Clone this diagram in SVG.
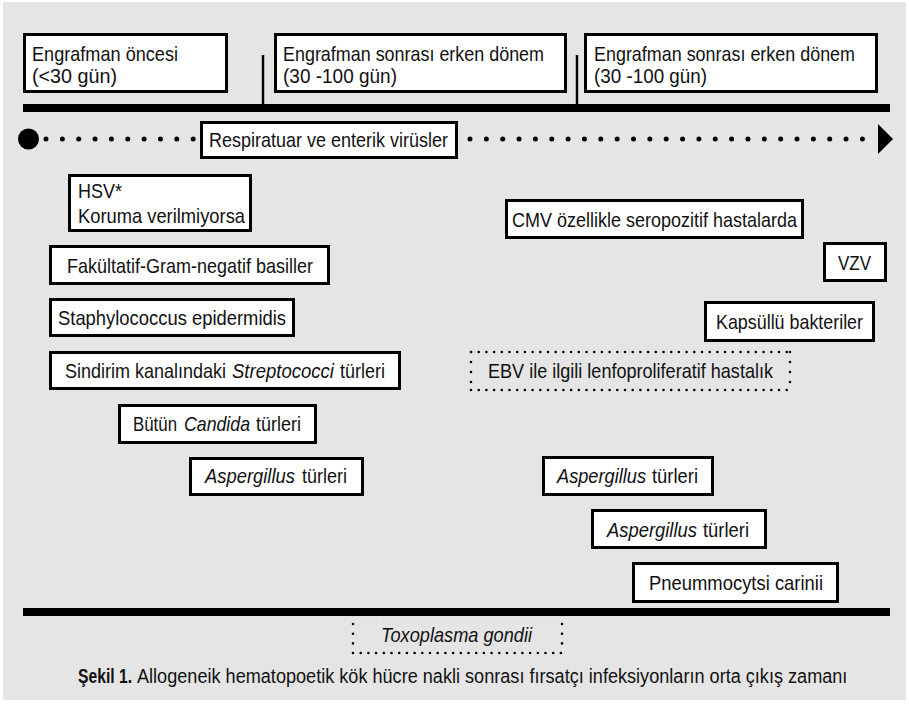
<svg xmlns="http://www.w3.org/2000/svg" width="909" height="704" viewBox="0 0 909 704">
<style>
.bx{fill:#fff;stroke:#000;stroke-width:3}
.t{font-family:"Liberation Sans Narrow","Liberation Sans",Arial,sans-serif;font-size:21px;fill:#111}
.i{font-style:italic}
.b{font-weight:bold}
.dot{fill:none;stroke:#000;stroke-width:2.6;stroke-linecap:round}
.tl{fill:none;stroke:#000;stroke-width:5;stroke-linecap:round;stroke-dasharray:0 16.35}
</style>
<rect x="0" y="0" width="909" height="704" fill="#fff"/>
<rect x="3" y="2" width="903" height="698" fill="#e5e5e5"/>

<g id="connectors">
  <rect x="23" y="104" width="867" height="8" fill="#000"/>
  <line x1="263" y1="55" x2="263" y2="104" stroke="#000" stroke-width="2.5"/>
  <line x1="577" y1="55" x2="577" y2="104" stroke="#000" stroke-width="2.5"/>
  <circle cx="28.5" cy="139" r="10.5" fill="#000"/>
  <line class="tl" x1="46" y1="139" x2="194" y2="139"/>
  <line class="tl" x1="470" y1="139" x2="864" y2="139"/>
  <polygon points="878,124 878,154 893,139" fill="#000"/>
</g>

<g id="period-pre">
  <rect class="bx" x="24.5" y="34.5" width="202" height="57"/>
  <text class="t" x="32" y="61" textLength="146" lengthAdjust="spacingAndGlyphs">Engrafman öncesi</text>
  <text class="t" x="32" y="83" textLength="85" lengthAdjust="spacingAndGlyphs">(&lt;30 gün)</text>
</g>
<g id="period-early1">
  <rect class="bx" x="275.5" y="34.5" width="290" height="57"/>
  <text class="t" x="283" y="61" textLength="261" lengthAdjust="spacingAndGlyphs">Engrafman sonrası erken dönem</text>
  <text class="t" x="283" y="83" textLength="114" lengthAdjust="spacingAndGlyphs">(30 -100 gün)</text>
</g>
<g id="period-early2">
  <rect class="bx" x="585.5" y="34.5" width="291" height="57"/>
  <text class="t" x="594" y="61" textLength="261" lengthAdjust="spacingAndGlyphs">Engrafman sonrası erken dönem</text>
  <text class="t" x="594" y="83" textLength="113" lengthAdjust="spacingAndGlyphs">(30 -100 gün)</text>
</g>
<g id="resp">
  <rect class="bx" x="201.5" y="122.5" width="255" height="35"/>
  <text class="t" x="209" y="147" textLength="239" lengthAdjust="spacingAndGlyphs">Respiratuar ve enterik virüsler</text>
</g>
<g id="hsv">
  <rect class="bx" x="69.5" y="175.5" width="181" height="55"/>
  <text class="t" x="78" y="198" textLength="44" lengthAdjust="spacingAndGlyphs">HSV*</text>
  <text class="t" x="78" y="223" textLength="167" lengthAdjust="spacingAndGlyphs">Koruma verilmiyorsa</text>
</g>
<g id="fak">
  <rect class="bx" x="50.5" y="246.5" width="278" height="37"/>
  <text class="t" x="67" y="273" textLength="246" lengthAdjust="spacingAndGlyphs">Fakültatif-Gram-negatif basiller</text>
</g>
<g id="staph">
  <rect class="bx" x="50.5" y="299.5" width="243" height="36"/>
  <text class="t" x="58" y="325" textLength="228" lengthAdjust="spacingAndGlyphs">Staphylococcus epidermidis</text>
</g>
<g id="sind">
  <rect class="bx" x="50.5" y="352.5" width="349" height="36"/>
  <text class="t" transform="translate(65,378) scale(0.857,1)" textLength="187.9" lengthAdjust="spacingAndGlyphs">Sindirim kanalındaki</text>
  <text class="t i" transform="translate(232,378) scale(0.883,1)" textLength="115.5" lengthAdjust="spacingAndGlyphs">Streptococci</text>
  <text class="t" transform="translate(340,378) scale(0.857,1)" textLength="52.5" lengthAdjust="spacingAndGlyphs">türleri</text>
</g>
<g id="candida">
  <rect class="bx" x="119.5" y="405.5" width="196" height="37"/>
  <text class="t" transform="translate(133,431) scale(0.83,1)" textLength="53" lengthAdjust="spacingAndGlyphs">Bütün</text>
  <text class="t i" transform="translate(184,431) scale(0.844,1)" textLength="78.2" lengthAdjust="spacingAndGlyphs">Candida</text>
  <text class="t" transform="translate(256,431) scale(0.857,1)" textLength="52.5" lengthAdjust="spacingAndGlyphs">türleri</text>
</g>
<g id="asp-left">
  <rect class="bx" x="190.5" y="458.5" width="172" height="36"/>
  <text class="t i" transform="translate(205,483) scale(0.876,1)" textLength="102.7" lengthAdjust="spacingAndGlyphs">Aspergillus</text>
  <text class="t" transform="translate(302,483) scale(0.857,1)" textLength="52.5" lengthAdjust="spacingAndGlyphs">türleri</text>
</g>
<g id="cmv">
  <rect class="bx" x="506.5" y="200.5" width="296" height="37"/>
  <text class="t" x="512" y="227" textLength="285" lengthAdjust="spacingAndGlyphs">CMV özellikle seropozitif hastalarda</text>
</g>
<g id="vzv">
  <rect class="bx" x="824.5" y="243.5" width="61" height="37"/>
  <text class="t" x="838" y="270" textLength="33" lengthAdjust="spacingAndGlyphs">VZV</text>
</g>
<g id="kapsullu">
  <rect class="bx" x="705.5" y="302.5" width="168" height="38"/>
  <text class="t" x="716" y="329" textLength="147" lengthAdjust="spacingAndGlyphs">Kapsüllü bakteriler</text>
</g>
<g id="ebv">
  <line class="dot" x1="471" y1="352" x2="790" y2="352" stroke-dasharray="0 7.7"/>
  <line class="dot" x1="471" y1="390" x2="790" y2="390" stroke-dasharray="0 7.7"/>
  <line class="dot" x1="471" y1="352" x2="471" y2="390" stroke-dasharray="0 10"/>
  <line class="dot" x1="790" y1="352" x2="790" y2="390" stroke-dasharray="0 10"/>
  <text class="t" x="488" y="378" textLength="285" lengthAdjust="spacingAndGlyphs">EBV ile ilgili lenfoproliferatif hastalık</text>
</g>
<g id="asp-right1">
  <rect class="bx" x="543.5" y="457.5" width="169" height="37"/>
  <text class="t i" transform="translate(557,483) scale(0.867,1)" textLength="102.7" lengthAdjust="spacingAndGlyphs">Aspergillus</text>
  <text class="t" transform="translate(652,483) scale(0.876,1)" textLength="52.5" lengthAdjust="spacingAndGlyphs">türleri</text>
</g>
<g id="asp-right2">
  <rect class="bx" x="592.5" y="510.5" width="173" height="37"/>
  <text class="t i" transform="translate(607,537) scale(0.876,1)" textLength="102.7" lengthAdjust="spacingAndGlyphs">Aspergillus</text>
  <text class="t" transform="translate(703,537) scale(0.876,1)" textLength="52.5" lengthAdjust="spacingAndGlyphs">türleri</text>
</g>
<g id="pneumo">
  <rect class="bx" x="633.5" y="563.5" width="204" height="38"/>
  <text class="t" x="649" y="590" textLength="174" lengthAdjust="spacingAndGlyphs">Pneummocytsi carinii</text>
</g>
<g id="toxo">
  <line class="dot" x1="353" y1="615" x2="562" y2="615" stroke-dasharray="0 7.7" opacity="0.4"/>
  <line class="dot" x1="353" y1="653" x2="562" y2="653" stroke-dasharray="0 7.7"/>
  <line class="dot" x1="353" y1="624" x2="353" y2="653" stroke-dasharray="0 9.7"/>
  <line class="dot" x1="562" y1="624" x2="562" y2="653" stroke-dasharray="0 9.7"/>
  <text class="t i" x="381" y="642" textLength="151" lengthAdjust="spacingAndGlyphs">Toxoplasma gondii</text>
</g>
<rect x="23" y="608" width="867" height="8" fill="#000"/>
<g id="caption">
  <text class="t b" transform="translate(78,683) scale(0.746,1)" textLength="72.4" lengthAdjust="spacingAndGlyphs">Şekil 1.</text>
  <text class="t" transform="translate(137,683) scale(0.8,1)" textLength="888" lengthAdjust="spacingAndGlyphs">Allogeneik hematopoetik kök hücre nakli sonrası fırsatçı infeksiyonların orta çıkış zamanı</text>
</g>
</svg>
